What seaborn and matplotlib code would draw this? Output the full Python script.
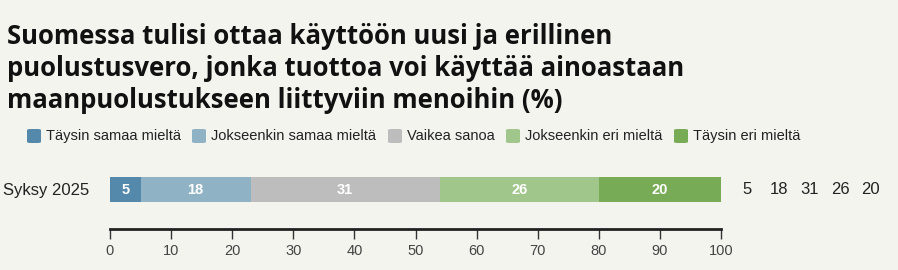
import matplotlib
matplotlib.use("Agg")
import matplotlib.pyplot as plt
import seaborn as sns
import pandas as pd
import numpy as np
from matplotlib.patches import FancyBboxPatch

categories = ["Täysin samaa mieltä", "Jokseenkin samaa mieltä", "Vaikea sanoa",
              "Jokseenkin eri mieltä", "Täysin eri mieltä"]
values = [5, 18, 31, 26, 20]
period = ["Syksy 2025"]
colors = ["#5589ab", "#8fb2c5", "#bdbdbd", "#a1c68b", "#78ab55"]
ticks = [0, 10, 20, 30, 40, 50, 60, 70, 80, 90, 100]
title = ("Suomessa tulisi ottaa käyttöön uusi ja erillinen\n"
         "puolustusvero, jonka tuottoa voi käyttää ainoastaan\n"
         "maanpuolustukseen liittyviin menoihin (%)")

bg = "#f4f4ef"
sns.set_theme(style="white")
plt.rcParams['font.family'] = ['Liberation Sans', 'DejaVu Sans']

W, H = 898, 270
fig = plt.figure(figsize=(W/100, H/100), dpi=100, facecolor=bg)
ax = fig.add_axes([110/W, 41/H, 611/W, 52/H], facecolor=bg)

cum = np.cumsum(values)
starts = cum - np.array(values)
# draw cumulative bars from longest to shortest so each overlays the previous
for i in reversed(range(len(values))):
    df = pd.DataFrame({"period": period, "val": [cum[i]]})
    sns.barplot(data=df, x="val", y="period", orient="h", color=colors[i],
                saturation=1, width=0.8, ax=ax, linewidth=0)

ax.set_ylim(1.264, -0.4)
ax.set_xlim(0, 100)
for i, v in enumerate(values):
    ax.text(starts[i] + v/2, 0, str(v), ha="center", va="center",
            color="white", fontsize=10.5, fontweight="bold")

# right side values
xs_px = [747, 779, 810, 840, 870]
for xp, v in zip(xs_px, values):
    fig.text(xp/W, 1 - 189/H, str(v), ha="center", va="center",
             fontsize=12, color="#222222")

fig.text(3/W, 1 - 190/H, period[0], ha="left", va="center", fontsize=12,
         color="#222222")

ax.set_xlabel("")
ax.set_ylabel("")
ax.set_yticks([])
ax.set_xticks(ticks)
ax.set_xticklabels([str(t) for t in ticks], fontsize=10.5, color="#444444")
for s in ["top", "left", "right"]:
    ax.spines[s].set_visible(False)
ax.spines["bottom"].set_color("#222222")
ax.spines["bottom"].set_linewidth(2)
ax.tick_params(axis="x", direction="out", length=7, width=1, color="#333333",
               pad=4, bottom=True)

# title
fig.text(7/W, 1 - 23/H, title, ha="left", va="top", fontsize=18.5,
         fontweight="bold", color="#111111", linespacing=1.24,
         family=["Open Sans", "DejaVu Sans"])

# legend
leg_x = [27, 192, 388, 506, 674]
for xp, lab, c in zip(leg_x, categories, colors):
    p = FancyBboxPatch((xp/W, 1 - 143/H), 14/W, 14/H,
                       boxstyle="round,pad=0,rounding_size=0.004",
                       transform=fig.transFigure, facecolor=c, edgecolor="none")
    fig.patches.append(p)
    fig.text((xp + 19)/W, 1 - 136/H, lab, ha="left", va="center",
             fontsize=10.5, color="#222222")

fig.savefig("out.png", dpi=100, facecolor=bg)
